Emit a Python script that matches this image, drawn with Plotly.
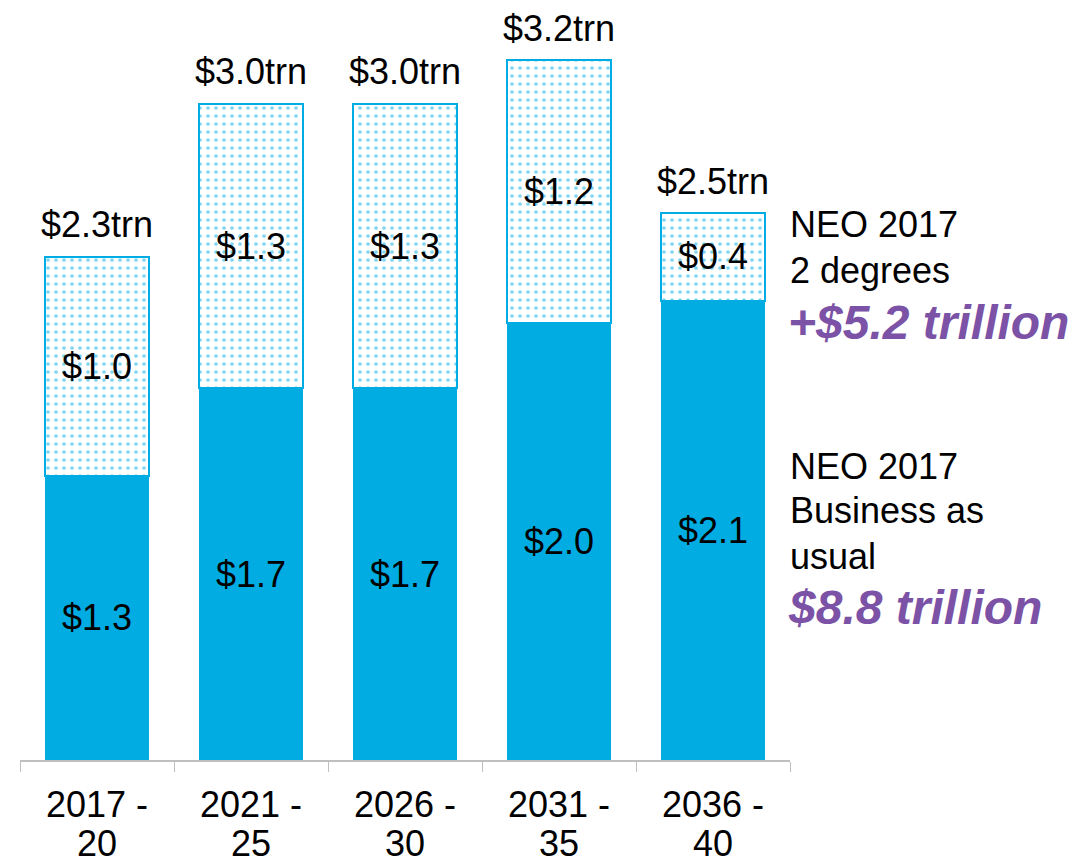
import plotly.graph_objects as go

cat_line1 = ["2017 -", "2021 -", "2026 -", "2031 -", "2036 -"]
cat_line2 = ["20", "25", "30", "35", "40"]
categories = [f"{a} {b}" for a, b in zip(cat_line1, cat_line2)]
bau_values = [1.3, 1.7, 1.7, 2.0, 2.1]
two_deg_extra = [1.0, 1.3, 1.3, 1.2, 0.4]
totals = [2.3, 3.0, 3.0, 3.2, 2.5]

CYAN = "#00ACE2"
PURPLE = "#7B52A6"
FONT = "Liberation Sans, Arial, sans-serif"

fig = go.Figure()
fig.add_trace(go.Bar(
    x=categories, y=bau_values, name="NEO 2017 Business as usual",
    marker=dict(color=CYAN, line=dict(color=CYAN, width=0)),
    text=[f"${v:.1f}" for v in bau_values],
    textposition="inside", insidetextanchor="middle", constraintext="none",
    textfont=dict(size=36, color="black", family=FONT),
    hoverinfo="skip",
))
fig.add_trace(go.Bar(
    x=categories, y=two_deg_extra, name="NEO 2017 2 degrees",
    marker=dict(color="white", line=dict(color=CYAN, width=2),
                pattern=dict(shape=".", fgcolor=CYAN, bgcolor="white", size=8, solidity=0.17)),
    text=[f"${v:.1f}" for v in two_deg_extra],
    textposition="inside", insidetextanchor="middle", constraintext="none",
    textfont=dict(size=36, color="black", family=FONT),
    hoverinfo="skip",
))

for c, t in zip(categories, totals):
    fig.add_annotation(x=c, y=t, text=f"${t:.1f}trn", showarrow=False,
                       xref="x", yref="y", yanchor="middle", yshift=32,
                       font=dict(size=36, color="black", family=FONT))

H = 760.0
def py(p):
    return (H - p) / H

# category labels in two lines (tighter line spacing like the reference)
for c, l1, l2 in zip(categories, cat_line1, cat_line2):
    fig.add_annotation(x=c, y=py(805), xref="x", yref="paper", text=l1,
                       showarrow=False, yanchor="middle",
                       font=dict(size=36, color="black", family=FONT))
    fig.add_annotation(x=c, y=py(843), xref="x", yref="paper", text=l2,
                       showarrow=False, yanchor="middle",
                       font=dict(size=36, color="black", family=FONT))

right_texts = [
    ("NEO 2017", 225, False),
    ("2 degrees", 270, False),
    ("+$5.2 trillion", 322, True),
    ("NEO 2017", 466, False),
    ("Business as", 511, False),
    ("usual", 556, False),
    ("$8.8 trillion", 607, True),
]
for txt, yp, emph in right_texts:
    if emph:
        fig.add_annotation(x=1.0, y=py(yp), xref="paper", yref="paper",
                           text=f"<b><i>{txt}</i></b>", showarrow=False,
                           xanchor="left", yanchor="middle", xshift=-4,
                           font=dict(size=48, color=PURPLE, family=FONT))
    else:
        fig.add_annotation(x=1.0, y=py(yp), xref="paper", yref="paper",
                           text=txt, showarrow=False,
                           xanchor="left", yanchor="middle", xshift=-2,
                           font=dict(size=36, color="black", family=FONT))

fig.update_layout(
    barmode="stack", bargap=0.32,
    width=1083, height=864,
    margin=dict(l=20, r=293, t=0, b=104),
    paper_bgcolor="white", plot_bgcolor="white",
    showlegend=False,
    font=dict(family=FONT, color="black"),
    xaxis=dict(showline=True, linecolor="#BFBFBF", linewidth=1.5,
               ticks="outside", tickson="boundaries", ticklen=10, tickcolor="#BFBFBF",
               showticklabels=False, showgrid=False),
    yaxis=dict(range=[0, 3.475], visible=False, showgrid=False, zeroline=False),
)

fig.write_html("out.html", config={"displayModeBar": False},
               post_script="document.body.style.margin='0';")
